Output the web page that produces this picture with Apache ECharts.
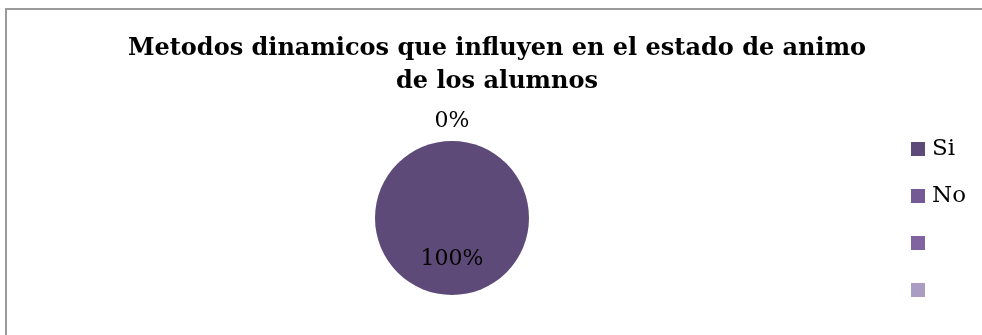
<!DOCTYPE html>
<html>
<head>
<meta charset="utf-8">
<script src="https://cdn.jsdelivr.net/npm/echarts@6/dist/echarts.min.js"></script>
<style>
  html, body { margin: 0; padding: 0; background: #fff; }
  #chart { width: 982px; height: 335px; }
</style>
</head>
<body>
<div id="chart"></div>
<script>
// Survey answers: share of each answer
const titleText = 'Metodos dinamicos que influyen en el estado de animo\nde los alumnos';
const categories = ['Si', 'No', ' ', '  '];
const values = [100, 0, 0, 0];
const colors = ['#5e4a78', '#735a96', '#8064a2', '#ab9cc4'];

const serif = '"DejaVu Serif", "Liberation Serif", serif';

const pieData = categories.map((name, i) => {
  const item = { name: name, value: values[i], itemStyle: { color: colors[i] } };
  if (i === 0) {
    item.label = { show: true, position: 'inside' };
  } else if (i === 1) {
    // zero share: label sits above the circle
    item.label = { show: true, position: 'inside', offset: [0, -55] };
  } else {
    item.label = { show: false };
  }
  return item;
});

const chart = echarts.init(document.getElementById('chart'), null, { renderer: 'canvas' });
chart.setOption({
  animation: false,
  backgroundColor: '#ffffff',
  title: {
    text: titleText,
    left: 492,
    top: 27,
    textAlign: 'center',
    textStyle: {
      fontFamily: serif,
      fontWeight: 'bold',
      fontSize: 24,
      lineHeight: 33,
      color: '#000'
    }
  },
  legend: {
    orient: 'vertical',
    left: 911,
    top: 137,
    padding: 0,
    itemWidth: 14,
    itemHeight: 14,
    itemGap: 23,
    icon: 'rect',
    data: categories,
    textStyle: { fontFamily: serif, fontSize: 23, lineHeight: 24, color: '#000', padding: [0, 0, 0, 2] }
  },
  graphic: [{
    type: 'rect',
    shape: { x: 6, y: 9, width: 1000, height: 400 },
    style: { fill: 'none', stroke: '#9a9a9a', lineWidth: 2 },
    silent: true
  }],
  series: [{
    type: 'pie',
    center: [452, 218],
    radius: 77,
    startAngle: 90,
    clockwise: true,
    stillShowZeroSum: true,
    avoidLabelOverlap: false,
    labelLine: { show: false },
    label: {
      formatter: '{d}%',
      fontFamily: serif,
      fontSize: 22,
      color: '#000'
    },
    emphasis: { disabled: true },
    data: pieData
  }]
});
</script>
</body>
</html>
